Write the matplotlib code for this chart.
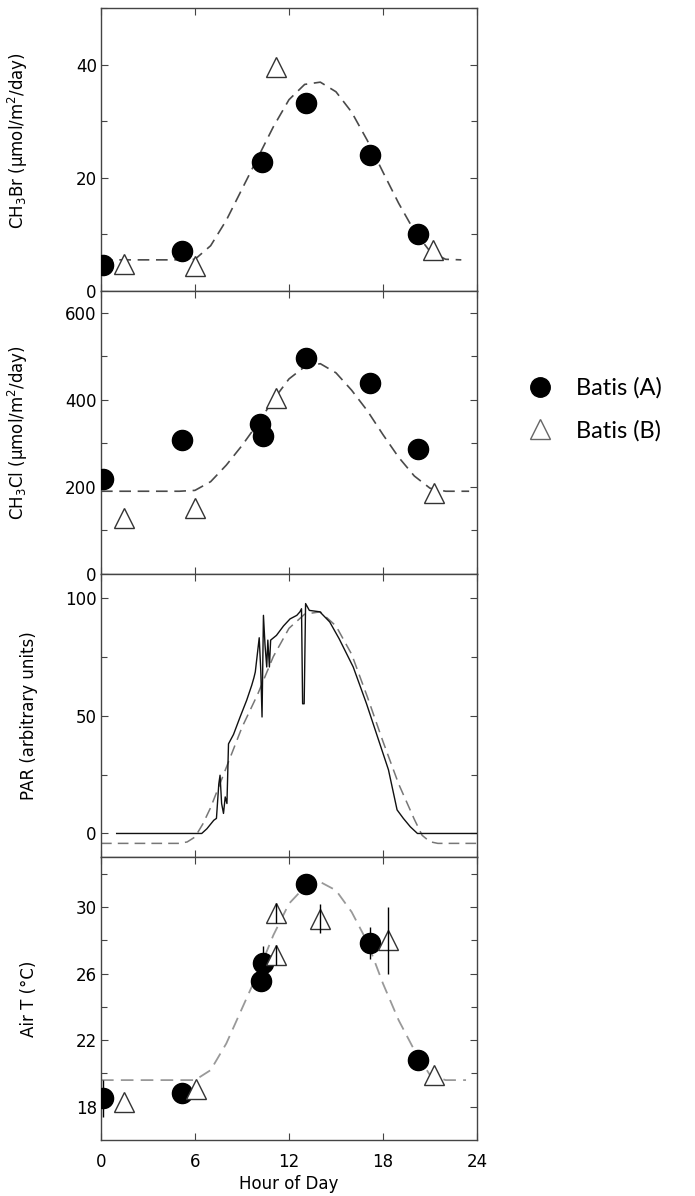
import matplotlib
matplotlib.use("Agg")
import matplotlib.pyplot as plt
from matplotlib.lines import Line2D
from matplotlib.ticker import MultipleLocator, FixedLocator

# --- CH3Br flux (umol/m2/day) ---
br_hours_a = [0.1, 5.15, 10.3, 13.1, 17.2, 20.25]
br_flux_a = [4.6, 7.0, 22.8, 33.3, 24.0, 10.1]
br_hours_b = [1.47, 6.0, 11.2, 21.2]
br_flux_b = [4.7, 4.4, 39.5, 7.3]
br_fit_hours = [0, 1, 2, 3, 4, 5, 6, 7, 8, 9, 10, 11, 12, 13, 14, 15, 16, 17, 18, 19, 20, 21, 22, 23]
br_fit = [5.5, 5.5, 5.5, 5.5, 5.5, 5.5, 5.6, 8.0, 12.5, 18.0, 23.5, 29.0, 33.8, 36.5,
          36.9, 35.2, 31.6, 26.6, 21.0, 15.5, 10.6, 7.0, 5.6, 5.5]

# --- CH3Cl flux (umol/m2/day) ---
cl_hours_a = [0.1, 5.15, 10.15, 10.36, 13.1, 17.2, 20.25]
cl_flux_a = [219, 308, 344, 318, 495, 438, 287]
cl_hours_b = [1.47, 6.0, 11.2, 21.25]
cl_flux_b = [128, 151, 405, 187]
cl_fit_hours = [0, 1, 2, 3, 4, 5, 6, 7, 8, 9, 10, 11, 12, 13, 14, 15, 16, 17, 18, 19, 20, 21, 22, 23, 23.5]
cl_fit = [190, 190, 190, 190, 190, 190, 192, 212, 250, 295, 345, 400, 448, 476, 483,
          462, 422, 375, 320, 268, 225, 197, 190, 190, 190]

# --- PAR (arbitrary units) ---
par_hours = [1.0, 6.43, 6.76, 7.2, 7.37, 7.52, 7.6, 7.7, 7.82, 7.93, 8.04, 8.14, 8.46,
             8.88, 9.3, 9.62, 9.76, 9.85, 10.1, 10.2, 10.28, 10.37, 10.47, 10.58, 10.65,
             10.75, 10.83, 11.2, 11.65, 12.07, 12.5, 12.7, 12.8, 12.87, 12.97, 13.06,
             13.3, 13.97, 14.6, 15.2, 16.1, 16.95, 17.8, 18.35, 18.9, 19.3, 19.75, 20.2, 24.0]
par_vals = [0, 0, 2, 5.6, 6.4, 21, 24.7, 12.7, 8.5, 15.5, 12.7, 38, 42,
            49.4, 56.5, 62.8, 66, 68.5, 83, 69, 49.4, 92.5, 80, 70.6, 82,
            70.6, 82, 84, 88, 91, 92.5, 94, 95.3, 55, 55, 97.5,
            94.6, 94, 89.7, 82.6, 70.6, 55, 38, 27, 10, 6.4, 2.8, 0, 0]
par_fit_hours = [0, 5, 5.5, 6, 6.5, 7, 8, 9, 10, 11, 12, 13, 14, 15, 16, 17, 18, 19, 20,
                 20.5, 21, 21.5, 22, 24]
par_fit = [-4.2, -4.2, -3.6, -1.5, 4, 11, 28, 45, 59, 75, 87, 93, 94, 88, 76, 58, 39, 21, 6,
           -0.8, -3.5, -4.2, -4.2, -4.2]

# --- Air temperature (C) ---
t_hours_a = [0.1, 5.15, 10.2, 10.36, 13.1, 17.2, 20.25]
t_vals_a = [18.5, 18.85, 25.55, 26.64, 31.4, 27.85, 20.8]
t_err_a = [1.1, 0, 0, 1.0, 0.55, 0.95, 0.6]
t_hours_b = [1.47, 6.05, 11.2, 11.15, 14.0, 18.3, 21.25]
t_vals_b = [18.3, 19.05, 29.65, 27.1, 29.3, 28.0, 19.9]
t_err_b = [0, 0, 0.6, 0.6, 0.85, 2.0, 0]
t_fit_hours = [0, 1, 2, 3, 4, 5, 6, 7, 8, 9, 10, 11, 12, 13, 14, 15, 16, 17, 18, 19, 20, 21, 22, 23.3]
t_fit = [19.6, 19.6, 19.6, 19.6, 19.6, 19.6, 19.6, 20.2, 21.8, 23.9, 26.0, 28.3, 30.2, 31.2,
         31.5, 31.0, 29.7, 27.9, 25.4, 23.2, 21.4, 19.9, 19.6, 19.6]

hour_ticks = [0, 6, 12, 18, 24]

plt.rcParams['font.family'] = ['DejaVu Sans']
plt.rcParams['font.size'] = 12

SPINE = '#444444'
DASH = (0, (7, 4))
CIRC = dict(marker='o', ls='none', color='black', ms=14.5, zorder=3)
TRI = dict(marker='^', ls='none', mfc='white', mec='#333333', mew=1.0, ms=15, zorder=3)

fig = plt.figure(figsize=(6.95, 11.96), dpi=100)
left, width = 0.1453, 0.541
bottoms = [0.7567, 0.5201, 0.2834, 0.0468]
height = 0.2366
axes = [fig.add_axes([left, b, width, height]) for b in bottoms]


def style_axis(ax):
    ax.set_xlim(0, 24)
    ax.xaxis.set_major_locator(FixedLocator(hour_ticks))
    ax.tick_params(which='both', direction='in', top=True, right=True,
                   color=SPINE, width=0.8, pad=3)
    ax.tick_params(which='major', length=5)
    ax.tick_params(which='minor', length=4)
    ax.tick_params(axis='x', pad=9)
    for s in ax.spines.values():
        s.set_color(SPINE)
        s.set_linewidth(1.0)


# CH3Br
ax = axes[0]
ax.plot(br_fit_hours, br_fit, color='#4a4a4a', lw=1.2, ls=DASH, zorder=2)
ax.plot(br_hours_a, br_flux_a, **CIRC)
ax.plot(br_hours_b, br_flux_b, **TRI)
ax.set_ylim(0, 50)
ax.yaxis.set_major_locator(MultipleLocator(20))
ax.yaxis.set_minor_locator(MultipleLocator(10))
ax.set_ylabel('CH$_3$Br (µmol/m$^2$/day)')
ax.yaxis.set_label_coords(-0.19, 0.53)

# CH3Cl
ax = axes[1]
ax.plot(cl_fit_hours, cl_fit, color='#4a4a4a', lw=1.2, ls=DASH, zorder=2)
ax.plot(cl_hours_a, cl_flux_a, **CIRC)
ax.plot(cl_hours_b, cl_flux_b, **TRI)
ax.set_ylim(0, 650)
ax.yaxis.set_major_locator(MultipleLocator(200))
ax.yaxis.set_minor_locator(MultipleLocator(100))
ax.set_ylabel('CH$_3$Cl (µmol/m$^2$/day)')
ax.yaxis.set_label_coords(-0.19, 0.5)

# PAR
ax = axes[2]
ax.plot(par_fit_hours, par_fit, color='#777777', lw=1.1, ls=DASH, zorder=2)
ax.plot(par_hours, par_vals, color='#111111', lw=1.0, zorder=3)
ax.set_ylim(-10, 110)
ax.yaxis.set_major_locator(MultipleLocator(50))
ax.yaxis.set_minor_locator(MultipleLocator(25))
ax.set_ylabel('PAR (arbitrary units)')
ax.yaxis.set_label_coords(-0.168, 0.5)

# Air temperature
ax = axes[3]
ax.plot(t_fit_hours, t_fit, color='#999999', lw=1.3, ls=DASH, zorder=2)
ax.plot(t_hours_a, t_vals_a, **CIRC)
ax.plot(t_hours_b, t_vals_b, **TRI)
ax.errorbar(t_hours_a, t_vals_a, yerr=t_err_a, fmt='none', ecolor='black', elinewidth=1.0, capsize=0, zorder=4)
ax.errorbar(t_hours_b, t_vals_b, yerr=t_err_b, fmt='none', ecolor='black', elinewidth=1.0, capsize=0, zorder=4)
ax.set_ylim(16, 33)
ax.yaxis.set_major_locator(FixedLocator([18, 22, 26, 30]))
ax.yaxis.set_minor_locator(FixedLocator([20, 24, 28, 32]))
ax.set_ylabel('Air T (°C)')
ax.yaxis.set_label_coords(-0.168, 0.5)
ax.set_xlabel('Hour of Day', labelpad=3)

for ax in axes:
    style_axis(ax)
for ax in axes[:-1]:
    ax.tick_params(labelbottom=False)

handles = [Line2D([], [], marker='o', ls='none', color='black', ms=14),
           Line2D([], [], marker='^', ls='none', mfc='white', mec='#666666', mew=1.0, ms=14)]
fig.legend(handles, ['Batis (A)', 'Batis (B)'], loc='center left',
           bbox_to_anchor=(0.757, 0.6576), frameon=False, borderpad=0, borderaxespad=0,
           handlelength=1.2, handletextpad=0.9, labelspacing=0.9,
           prop={'family': 'Lato', 'size': 17})

fig.savefig('out.png', dpi=100)
